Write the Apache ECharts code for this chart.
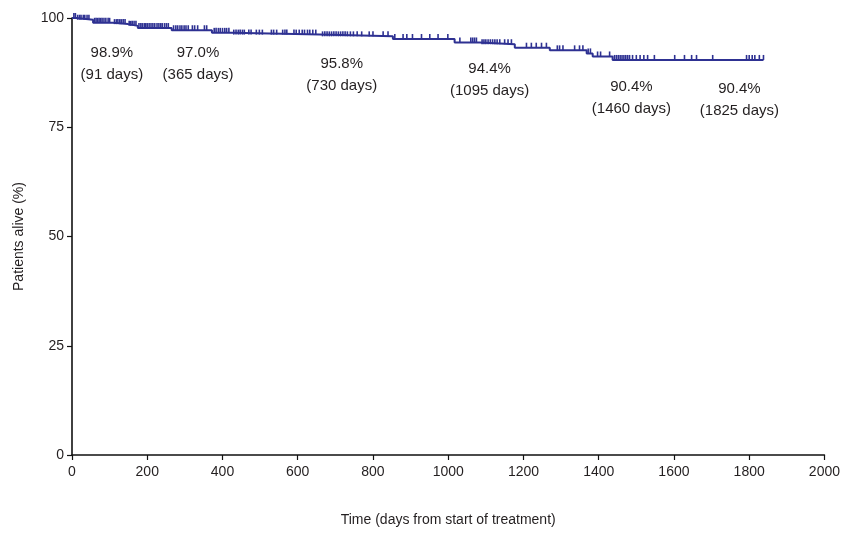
<!DOCTYPE html>
<html>
<head>
<meta charset="utf-8">
<script src="https://cdn.jsdelivr.net/npm/echarts@6/dist/echarts.min.js"></script>
<style>
  html, body { margin: 0; padding: 0; background: #fff; }
  #chart { width: 843px; height: 533px; }
</style>
</head>
<body>
<div id="chart"></div>
<script>
// Kaplan-Meier steps: day of drop and survival (%) after it
const stepDays = [0, 12, 56, 109, 149, 175, 265, 372, 425, 659, 853, 1017, 1084, 1177, 1270, 1368, 1384, 1437, 1838];
const stepValues = [100, 99.6, 98.9, 98.6, 98.2, 97.7, 97.2, 96.6, 96.2, 95.8, 95.2, 94.4, 94.0, 93.2, 92.6, 91.9, 91.2, 90.4, 90.4];

// censored patients (days)
const censorDays = [5, 9, 15, 20, 24, 30, 34, 40, 45, 60, 64, 68, 72, 76, 80, 85, 90, 96, 100, 113, 118, 122, 127, 131,
  136, 141, 152, 156, 160, 165, 170, 178, 183, 187, 192, 196, 200, 205, 210, 215, 220, 226, 231, 236, 240, 246, 251,
  256, 270, 276, 281, 287, 292, 298, 303, 309, 320, 326, 334, 352, 358, 378, 383, 389, 394, 400, 406, 411, 417, 430,
  436, 442, 447, 453, 458, 470, 476, 490, 498, 506, 530, 536, 544, 560, 566, 571, 590, 596, 604, 612, 618, 626, 632,
  640, 648, 666, 672, 678, 684, 690, 696, 702, 708, 714, 720, 726, 732, 740, 748, 758, 770, 790, 800, 827, 840, 858,
  880, 890, 905, 929, 951, 973, 999, 1031, 1060, 1065, 1070, 1075, 1090, 1095, 1100, 1106, 1112, 1118, 1124, 1130,
  1137, 1150, 1159, 1168, 1208, 1221, 1234, 1248, 1261, 1290, 1296, 1305, 1336, 1349, 1358, 1372, 1378, 1397, 1405,
  1429, 1442, 1447, 1452, 1457, 1462, 1467, 1472, 1477, 1482, 1490, 1500, 1510, 1520, 1530, 1548, 1602, 1628, 1647,
  1660, 1703, 1793, 1800, 1808, 1815, 1827, 1838];

// annotations
const noteTexts = ['98.9%\n(91 days)', '97.0%\n(365 days)', '95.8%\n(730 days)', '94.4%\n(1095 days)', '90.4%\n(1460 days)', '90.4%\n(1825 days)'];
const noteX = [106, 335, 717, 1110, 1487, 1774];
const noteY = [89.4, 89.4, 86.9, 85.8, 81.7, 81.3];

const xTicks = [0, 200, 400, 600, 800, 1000, 1200, 1400, 1600, 1800, 2000];
const yTicks = [0, 25, 50, 75, 100];

const lineColor = '#2e3192';

// survival at a given day (step lookup)
function survivalAt(d) {
    let v = stepValues[0];
    for (let i = 0; i < stepDays.length; i++) {
        if (stepDays[i] <= d) v = stepValues[i];
    }
    return v;
}

const stepData = stepDays.map((d, i) => [d, stepValues[i]]);
const censorData = censorDays.map(d => [d, survivalAt(d)]);
const noteData = noteX.map((x, i) => ({ value: [x, noteY[i]], label: { formatter: noteTexts[i] } }));

const chart = echarts.init(document.getElementById('chart'));

const option = {
    animation: false,
    backgroundColor: '#fff',
    textStyle: { fontFamily: 'Liberation Sans, Arial, sans-serif' },
    grid: { left: 72, right: 18, top: 18, bottom: 78 },
    xAxis: {
        type: 'value',
        min: 0, max: 2000, interval: 200,
        name: 'Time (days from start of treatment)',
        nameLocation: 'middle',
        nameGap: 58,
        nameTextStyle: { fontSize: 14, color: '#231f20' },
        axisLine: { lineStyle: { color: '#111', width: 1.6 } },
        axisTick: { show: true, length: 5, lineStyle: { color: '#111', width: 1.2 } },
        axisLabel: { fontSize: 14, color: '#231f20', margin: 10, formatter: v => xTicks.includes(v) ? String(v) : '' },
        splitLine: { show: false }
    },
    yAxis: {
        type: 'value',
        min: 0, max: 100, interval: 25,
        name: 'Patients alive (%)',
        nameLocation: 'middle',
        nameGap: 46,
        nameRotate: 90,
        nameTextStyle: { fontSize: 14, color: '#231f20' },
        axisLine: { show: true, lineStyle: { color: '#111', width: 1.6 } },
        axisTick: { show: true, length: 5, lineStyle: { color: '#111', width: 1.2 } },
        axisLabel: { fontSize: 14, color: '#231f20', margin: 8, formatter: v => yTicks.includes(v) ? String(v) : '' },
        splitLine: { show: false }
    },
    series: [
        {
            type: 'line',
            step: 'end',
            data: stepData,
            symbol: 'none',
            lineStyle: { color: lineColor, width: 2 },
            z: 3
        },
        {
            type: 'scatter',
            data: censorData,
            symbol: 'rect',
            symbolSize: [1.6, 5],
            symbolOffset: [0, -2.5],
            itemStyle: { color: lineColor, opacity: 1 },
            z: 4
        },
        {
            type: 'scatter',
            data: noteData,
            symbolSize: 0,
            itemStyle: { opacity: 1 },
            label: {
                show: true,
                position: 'inside',
                fontSize: 15,
                lineHeight: 22,
                color: '#231f20',
                align: 'center'
            },
            z: 5
        }
    ]
};

chart.setOption(option);
</script>
</body>
</html>
